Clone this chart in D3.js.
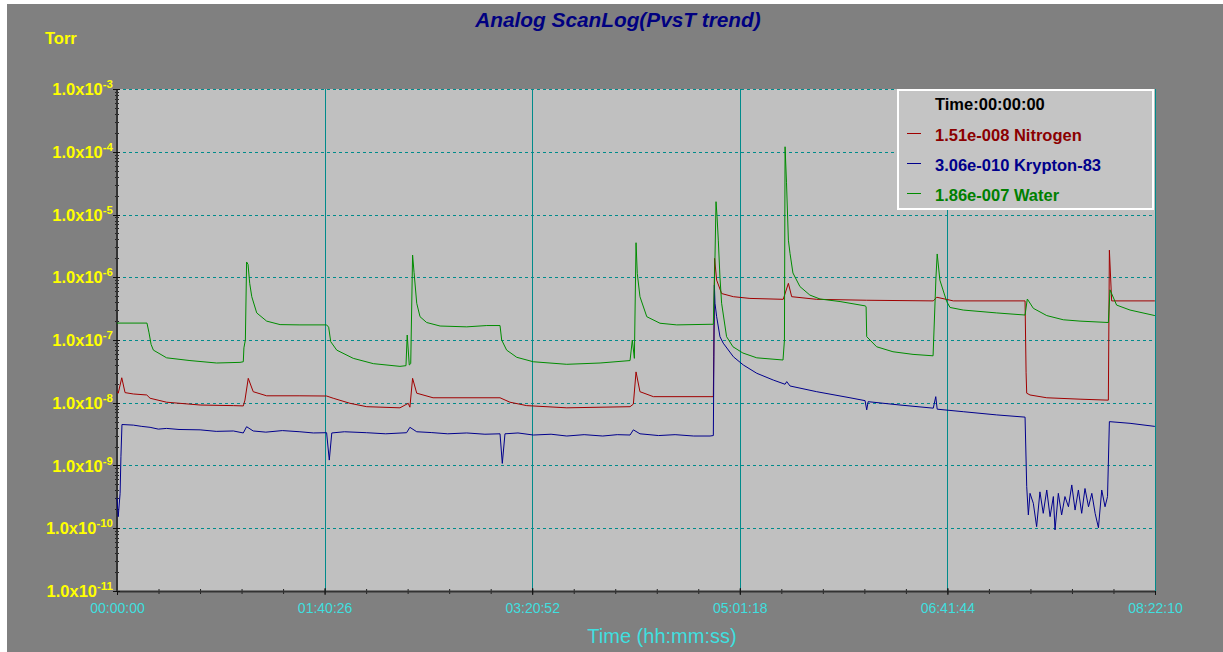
<!DOCTYPE html>
<html>
<head>
<meta charset="utf-8">
<script src="https://cdn.jsdelivr.net/npm/d3@7"></script>
<style>
    html, body { margin: 0; padding: 0; background: #ffffff; }
    svg { display: block; }
    text { font-family: Arial, "Liberation Sans", sans-serif; }
</style>
</head>
<body>
<div id="chart"></div>
<script>
    // time in minutes, pressure in Torr
    const nitrogenT = [0, 0.6, 2.3, 3.9, 7.9, 14.4, 16.0, 24.0, 40.2, 56.3, 61.1, 61.9, 63.5, 65.9, 72.4, 88.5, 101.4, 104.6, 112.7, 120.8,
        136.9, 140.9, 141.7, 143.0, 145.0, 152.9, 185.3, 190.1, 198.2, 217.6, 248.2, 249.8, 251.1, 253.0, 259.5, 286.9, 288.5, 288.7, 289.1, 290.1,
        292.5, 298.2, 306.2, 322.3, 324.8, 326.4, 338.5, 362.7, 394.9, 396.6, 404.6, 439.3, 439.8, 440.1, 441.7, 449.8, 465.9, 479.6, 480.1, 481.2, 502.1];
    const nitrogenP = [1.51e-8, 1.42e-8, 2.5e-8, 1.45e-8, 1.38e-8, 1.33e-8, 1.18e-8, 1.02e-8, 9.2e-9, 9.0e-9, 8.9e-9, 1.1e-8, 2.45e-8, 1.5e-8, 1.29e-8, 1.29e-8, 1.28e-8, 1.18e-8, 9.8e-9, 8.65e-9,
        8.3e-9, 9.8e-9, 8.5e-9, 2.45e-8, 1.42e-8, 1.2e-8, 1.2e-8, 1.02e-8, 9.0e-9, 8.3e-9, 8.65e-9, 9.5e-9, 3.1e-8, 1.5e-8, 1.25e-8, 1.25e-8, 1.25e-8, 5.4e-8, 2.0e-6, 9.0e-7,
        5.5e-7, 4.9e-7, 4.6e-7, 4.45e-7, 8.0e-7, 4.9e-7, 4.45e-7, 4.3e-7, 4.2e-7, 4.8e-7, 4.2e-7, 4.2e-7, 3e-8, 1.42e-8, 1.33e-8, 1.2e-8, 1.14e-8, 1.1e-8, 2.7e-6, 4.2e-7, 4.2e-7];

    const kryptonT = [0, 0.6, 1.5, 1.9, 2.4, 7.9, 12, 16.0, 20, 24.0, 30, 40.2, 48, 56.3, 61.1, 62.7, 65.9, 72, 80, 88.5,
        95, 101.4, 102.7, 103.9, 110, 120.8, 130, 140.1, 141.7, 145.0, 152, 160, 169.2, 178, 185.3, 186.4, 187.7, 194, 201.4, 210,
        217.6, 226, 235, 242, 248.2, 249.8, 253.0, 262, 270, 279, 286.9, 288.5, 289.0, 289.3, 290.1, 291.7, 293.3, 298.2, 303.0, 309.5,
        317.5, 323.2, 324.0, 325.6, 338.5, 354.6, 361.9, 362.7, 363.4, 378.8, 394.9, 396.1, 396.8, 409.4, 425.6, 439.3, 440.1, 440.9, 441.7, 443.3,
        444.9, 446.5, 448.1, 449.8, 451.4, 453.0, 453.8, 455.4, 457.0, 458.6, 460.3, 461.9, 463.5, 465.1, 466.7, 468.3, 470.0, 471.6, 473.2, 474.8,
        476.4, 478.0, 479.2, 480.1, 490.1, 502.1];
    const kryptonP = [3.06e-10, 1.53e-10, 3.6e-10, 1.38e-9, 4.5e-9, 4.4e-9, 4.2e-9, 4.06e-9, 3.8e-9, 3.9e-9, 3.75e-9, 3.7e-9, 3.5e-9, 3.55e-9, 3.3e-9, 4.15e-9, 3.55e-9, 3.4e-9, 3.6e-9, 3.45e-9,
        3.3e-9, 3.33e-9, 1.22e-9, 3.3e-9, 3.45e-9, 3.33e-9, 3.2e-9, 3.33e-9, 4.06e-9, 3.45e-9, 3.35e-9, 3.2e-9, 3.3e-9, 3.15e-9, 3.2e-9, 1.08e-9, 3.2e-9, 3.3e-9, 3.06e-9, 3.15e-9,
        2.95e-9, 3.1e-9, 2.95e-9, 3.1e-9, 3.06e-9, 3.7e-9, 3.2e-9, 3.0e-9, 3.1e-9, 2.95e-9, 2.95e-9, 3.0e-9, 7.5e-7, 3.85e-7, 2.35e-7, 1.13e-7, 8.9e-8, 5.4e-8, 4.0e-8, 2.95e-8,
        2.3e-8, 1.97e-8, 2.17e-8, 1.85e-8, 1.5e-8, 1.2e-8, 1.08e-8, 7.7e-9, 1.04e-8, 9.2e-9, 8.2e-9, 1.25e-8, 7.9e-9, 7.2e-9, 6.4e-9, 5.9e-9, 4.6e-10, 1.63e-10, 3.6e-10, 2.5e-10,
        1.06e-10, 3.8e-10, 1.73e-10, 4.07e-10, 1.53e-10, 3.2e-10, 9.4e-11, 3.6e-10, 1.63e-10, 3.2e-10, 2.2e-10, 4.9e-10, 1.95e-10, 4.07e-10, 1.73e-10, 4.3e-10, 2.2e-10, 3.6e-10, 1.73e-10, 1.02e-10,
        4.07e-10, 2.2e-10, 3.2e-10, 5.0e-9, 4.7e-9, 4.2e-9];

    const waterT = [0, 14.5, 15.5, 16.5, 17.6, 24, 35.3, 48.2, 59.5, 61.1, 61.4, 62.1, 62.7, 63.4, 64.2, 65.2, 67.6, 72.4, 78.9, 88.5,
        101.4, 102.4, 103.4, 106.3, 114.3, 124, 136.9, 139.8, 140.4, 141.4, 142.1, 143.0, 143.7, 145.0, 146.6, 149.8, 156.3, 169.2, 178.9, 185.3,
        186.1, 188.5, 193.4, 201.4, 217.6, 233.7, 248.2, 249.3, 250.3, 251.1, 251.7, 253.0, 256.3, 262.7, 270.8, 286.9, 288.5, 289.3, 289.8, 290.3,
        290.9, 291.7, 292.5, 294.9, 298.0, 302.8, 309.5, 322.2, 322.9, 323.2, 323.9, 324.8, 325.6, 327.0, 330.4, 335.2, 340.1, 349.8, 361.9, 362.4,
        362.7, 367.5, 375.4, 385.1, 394.8, 396.2, 396.8, 398.1, 401.4, 403.0, 409.4, 425.6, 439.3, 440.4, 443.3, 449.8, 457.8, 465.9, 479.6, 480.4,
        483.6, 490.1, 502.1];
    const waterP = [1.86e-7, 1.86e-7, 1.3e-7, 8.5e-8, 6.9e-8, 5.2e-8, 4.7e-8, 4.3e-8, 4.4e-8, 4.5e-8, 7.5e-8, 1.0e-7, 1.75e-6, 1.6e-6, 8e-7, 4.9e-7, 2.7e-7, 2.0e-7, 1.76e-7, 1.74e-7,
        1.74e-7, 1.6e-7, 9.4e-8, 6.9e-8, 5.1e-8, 4.2e-8, 3.8e-8, 3.9e-8, 1.2e-7, 4.0e-8, 4.2e-8, 2.26e-6, 1.2e-6, 3.85e-7, 2.35e-7, 1.9e-7, 1.67e-7, 1.62e-7, 1.7e-7, 1.7e-7,
        1.0e-7, 6.9e-8, 5.3e-8, 4.5e-8, 4.1e-8, 4.3e-8, 4.7e-8, 1.0e-7, 5.1e-8, 3.55e-6, 1.15e-6, 4.9e-7, 2.35e-7, 1.85e-7, 1.74e-7, 1.78e-7, 1.78e-7, 2.1e-6, 1.6e-5, 9.2e-6,
        3.9e-6, 1.0e-6, 3.85e-7, 1.13e-7, 7.8e-8, 6.2e-8, 5.2e-8, 4.8e-8, 1.0e-7, 1.2e-4, 3.2e-5, 3.9e-6, 2.4e-6, 1.17e-6, 7.1e-7, 5.2e-7, 4.5e-7, 4.1e-7, 3.5e-7, 3.4e-7,
        1.13e-7, 7.8e-8, 6.5e-8, 5.9e-8, 5.6e-8, 1.0e-6, 2.35e-6, 9.0e-7, 4.1e-7, 3.3e-7, 3.0e-7, 2.7e-7, 2.5e-7, 4.5e-7, 3.2e-7, 2.45e-7, 2.1e-7, 2.0e-7, 1.9e-7, 6.3e-7,
        3.6e-7, 3.0e-7, 2.45e-7];

    const xTickSeconds = [0, 6026, 12052, 18078, 24104, 30130];
    const yTickExponents = [-3, -4, -5, -6, -7, -8, -9, -10, -11];
    const legendTime = "Time:00:00:00";
    const legendNames = ["1.51e-008 Nitrogen", "3.06e-010 Krypton-83", "1.86e-007 Water"];

    const W = 1223, H = 652;
    const margin = { top: 89, right: 68, bottom: 61, left: 117 };
    const width = W - margin.left - margin.right;
    const height = H - margin.top - margin.bottom;

    const svg = d3.select("#chart")
        .append("svg")
        .attr("width", W)
        .attr("height", H);

    svg.append("rect")
        .attr("x", 7).attr("y", 4)
        .attr("width", W - 7).attr("height", H - 4)
        .attr("fill", "#808080");

    const g = svg.append("g")
        .attr("transform", `translate(${margin.left},${margin.top})`);

    const x = d3.scaleLinear().domain([0, 30130]).range([0, width]);
    const y = d3.scaleLog().domain([1e-11, 1e-3]).range([height, 0]);

    g.append("rect")
        .attr("width", width).attr("height", height)
        .attr("fill", "#c0c0c0");

    // horizontal dashed grid at decades
    g.selectAll(".hgrid")
        .data(yTickExponents.filter(e => e > -11))
        .enter().append("line")
        .attr("x1", 0).attr("x2", width)
        .attr("y1", d => Math.round(y(Math.pow(10, d))) + 0.5)
        .attr("y2", d => Math.round(y(Math.pow(10, d))) + 0.5)
        .attr("stroke", "#008b8b")
        .attr("stroke-dasharray", "3,3");

    // vertical grid lines
    g.selectAll(".vgrid")
        .data(xTickSeconds.slice(1))
        .enter().append("line")
        .attr("x1", d => Math.round(x(d)) + 0.5).attr("x2", d => Math.round(x(d)) + 0.5)
        .attr("y1", 0).attr("y2", height)
        .attr("stroke", "#008b8b");

    const fmtTime = s => {
        const h = Math.floor(s / 3600), m = Math.floor((s % 3600) / 60), sec = s % 60;
        return [h, m, sec].map(v => String(v).padStart(2, "0")).join(":");
    };

    // bottom axis
    const minorX = d3.range(0, 26).map(i => i * 1205.2);
    g.append("g")
        .attr("transform", `translate(0,${height})`)
        .call(d3.axisBottom(x).tickValues(minorX).tickSize(3).tickFormat(""))
        .call(a => a.select(".domain").remove())
        .call(a => a.selectAll("line").attr("stroke", "#222").attr("y1", -2));
    const xAxis = g.append("g")
        .attr("transform", `translate(0,${height})`)
        .call(d3.axisBottom(x).tickValues(xTickSeconds).tickSize(4).tickSizeOuter(0).tickFormat(fmtTime));
    xAxis.select(".domain").attr("stroke", "#333").attr("stroke-width", 2);
    xAxis.selectAll("line").attr("stroke", "#111").attr("y1", -3);
    xAxis.selectAll("text")
        .attr("fill", "#3fdfdf")
        .attr("font-size", 14)
        .attr("dy", "1.05em")
        .attr("font-family", "Arial, 'Liberation Sans', sans-serif");

    // left axis with log minor ticks
    const minorY = [];
    for (let e = -11; e < -3; e++) {
        for (let k = 2; k <= 9; k++) minorY.push(k * Math.pow(10, e));
    }
    g.selectAll(".yminor")
        .data(minorY)
        .enter().append("line")
        .attr("x1", -2).attr("x2", 2)
        .attr("y1", d => Math.round(y(d)) + 0.5).attr("y2", d => Math.round(y(d)) + 0.5)
        .attr("stroke", "#222");
    g.append("line")
        .attr("x1", 0).attr("x2", 0).attr("y1", 0).attr("y2", height)
        .attr("stroke", "#333").attr("stroke-width", 2);
    g.selectAll(".ymajor")
        .data(yTickExponents)
        .enter().append("line")
        .attr("x1", -4).attr("x2", 3)
        .attr("y1", d => Math.round(y(Math.pow(10, d))) + 0.5)
        .attr("y2", d => Math.round(y(Math.pow(10, d))) + 0.5)
        .attr("stroke", "#111");

    const yLabels = g.selectAll(".ylab")
        .data(yTickExponents)
        .enter().append("text")
        .attr("x", -4)
        .attr("y", d => y(Math.pow(10, d)) + 6)
        .attr("text-anchor", "end")
        .attr("fill", "#ffff00")
        .attr("font-weight", "bold")
        .attr("font-size", 16.5);
    yLabels.append("tspan").text("1.0x10");
    yLabels.append("tspan")
        .attr("dy", -7)
        .attr("font-size", 11.5)
        .text(d => String(d));

    // series
    const series = [
        { t: nitrogenT, p: nitrogenP, color: "#a00000" },
        { t: kryptonT, p: kryptonP, color: "#00008c" },
        { t: waterT, p: waterP, color: "#008c00" }
    ];
    const line = d3.line()
        .x(d => x(d[0] * 60))
        .y(d => y(d[1]));
    g.selectAll(".series")
        .data(series)
        .enter().append("path")
        .attr("fill", "none")
        .attr("stroke", d => d.color)
        .attr("stroke-width", 1)
        .attr("stroke-linejoin", "round")
        .attr("d", d => line(d.t.map((t, i) => [t, d.p[i]])));

    // right border
    g.append("line")
        .attr("x1", width + 0.5).attr("x2", width + 0.5).attr("y1", 0).attr("y2", height)
        .attr("stroke", "#008b8b");

    // legend
    const lg = svg.append("g").attr("transform", "translate(897,89)");
    lg.append("rect")
        .attr("x", 1).attr("y", 1)
        .attr("width", 255).attr("height", 119)
        .attr("fill", "#c4c4c4")
        .attr("stroke", "#ffffff").attr("stroke-width", 2);
    lg.append("text")
        .attr("x", 38).attr("y", 21)
        .attr("fill", "#000")
        .attr("font-weight", "bold").attr("font-size", 16.5)
        .text(legendTime);
    const legendColors = ["#8b0000", "#00008b", "#008000"];
    legendNames.forEach((name, i) => {
        const yy = 44 + i * 30;
        lg.append("line")
            .attr("x1", 10).attr("x2", 24)
            .attr("y1", yy + 0.5).attr("y2", yy + 0.5)
            .attr("stroke", series[i].color);
        lg.append("text")
            .attr("x", 38).attr("y", yy + 8)
            .attr("fill", legendColors[i])
            .attr("font-weight", "bold").attr("font-size", 16.5)
            .text(name);
    });

    // titles
    svg.append("text")
        .attr("x", 618).attr("y", 27)
        .attr("text-anchor", "middle")
        .attr("fill", "#000080")
        .attr("font-weight", "bold").attr("font-style", "italic")
        .attr("font-size", 20.8)
        .text("Analog ScanLog(PvsT trend)");
    svg.append("text")
        .attr("x", 45).attr("y", 44)
        .attr("fill", "#ffff00")
        .attr("font-weight", "bold").attr("font-size", 16.5)
        .text("Torr");
    svg.append("text")
        .attr("x", 662).attr("y", 643)
        .attr("text-anchor", "middle")
        .attr("fill", "#3fdfdf")
        .attr("font-size", 20)
        .text("Time (hh:mm:ss)");
</script>
</body>
</html>
